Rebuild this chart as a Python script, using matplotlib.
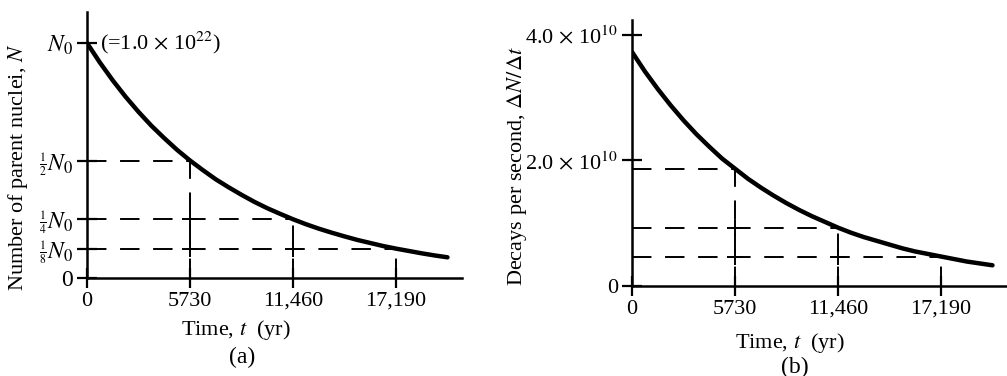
import matplotlib
matplotlib.use("Agg")
import matplotlib.pyplot as plt

# values
half_life = 5730
t_years = [0, 716, 1432, 2149, 2865, 3581, 4298, 5014, 5730, 6446, 7162,
           7879, 8595, 9311, 10028, 10744, 11460, 12176, 12892, 13609, 14325,
           15041, 15758, 16474, 17190, 17906, 18622, 19339, 20055]
n_fraction = [1.000, 0.917, 0.841, 0.771, 0.707, 0.648, 0.595, 0.545, 0.500,
              0.459, 0.420, 0.386, 0.354, 0.324, 0.297, 0.273, 0.250, 0.229,
              0.210, 0.193, 0.177, 0.162, 0.149, 0.136, 0.125, 0.115, 0.105,
              0.096, 0.088]
rate_e10 = [3.73, 3.42, 3.14, 2.88, 2.64, 2.42, 2.22, 2.03, 1.87, 1.71, 1.57,
            1.44, 1.32, 1.21, 1.11, 1.02, 0.93, 0.85, 0.78, 0.72, 0.66, 0.60,
            0.55, 0.51, 0.47, 0.43, 0.39, 0.36, 0.33]

guide_t = [5730, 11460, 17190]
guide_n = [0.5, 0.25, 0.125]
guide_rate = [1.87, 0.93, 0.47]

xtick_vals = [0, 5730, 11460, 17190]
xtick_labels = ["0", "5730", "11,460", "17,190"]
ytick_a = [0, 0.125, 0.25, 0.5, 1.0]
ytick_a_labels = ["0",
                  r"$\genfrac{}{}{0.6}{2}{1}{8}N_0$",
                  r"$\genfrac{}{}{0.6}{2}{1}{4}N_0$",
                  r"$\genfrac{}{}{0.6}{2}{1}{2}N_0$",
                  r"$N_0$"]
ytick_b = [0, 2.0, 4.0]
ytick_b_labels = ["0", r"2.0 $\times$ 10$^{10}$", r"4.0 $\times$ 10$^{10}$"]

plt.rcParams["font.family"] = ["Liberation Serif", "DejaVu Serif"]
plt.rcParams["mathtext.fontset"] = "stix"

W, H = 1007, 376
fig = plt.figure(figsize=(W / 100, H / 100), dpi=100)
fs = 16


def setup(ax, xmax, ymax):
	ax.set_xlim(0, xmax)
	ax.set_ylim(0, ymax)
	for s in ["top", "right"]:
		ax.spines[s].set_visible(False)
	for s in ["left", "bottom"]:
		ax.spines[s].set_linewidth(1.8)
	ax.tick_params(direction="inout", length=14, width=1.6, labelsize=fs, pad=3)
	ax.set_xticks(xtick_vals)
	ax.set_xticklabels(xtick_labels)
	ax.patch.set_alpha(0)


def guides(ax, yvals):
	dash = dict(color="black", lw=1.4, dashes=(10, 7))
	for tx, yv in zip(guide_t, yvals):
		ax.plot([0, tx], [yv, yv], **dash)
		ax.plot([tx, tx], [0, yv], **dash)
	# small crosses where guides meet
	ax.plot([guide_t[0], guide_t[0], guide_t[1]], [yvals[1], yvals[2], yvals[2]],
			"+", color="black", ms=12, mew=1.4)


# panel (a)
ax1 = fig.add_axes([87 / W, 1 - 278 / H, (462 - 87) / W, (278 - 12) / H])
setup(ax1, 20862, (278 - 12) / 235)
ax1.set_yticks(ytick_a)
ax1.set_yticklabels(ytick_a_labels)
ax1.tick_params(axis="y", labelsize=fs + 1)
guides(ax1, guide_n)
ax1.plot(t_years, n_fraction, color="black", lw=3.2,
		 solid_capstyle="round", solid_joinstyle="round")
ax1.text(700, 1.0, r"(=1.0 $\times$ 10$^{22}$)", fontsize=fs, va="center", ha="left")

# panel (b)
ax2 = fig.add_axes([632 / W, 1 - 286 / H, (1007 - 632) / W, (286 - 20) / H])
setup(ax2, 20862, (286 - 20) / 62.75)
ax2.set_yticks(ytick_b)
ax2.set_yticklabels(ytick_b_labels)
guides(ax2, guide_rate)
ax2.plot(t_years, rate_e10, color="black", lw=3.2,
		 solid_capstyle="round", solid_joinstyle="round")

# labels
fig.text(18 / W, 1 - 167 / H, r"Number of parent nuclei, $N$", rotation=90,
		 ha="center", va="center", fontsize=fs)
fig.text(517 / W, 1 - 166 / H, r"Decays per second, $\Delta N/\Delta t$", rotation=90,
		 ha="center", va="center", fontsize=fs)
fig.text(236 / W, 1 - 330 / H, r"Time, $t$  (yr)", ha="center", va="center", fontsize=fs)
fig.text(242 / W, 1 - 357 / H, "(a)", ha="center", va="center", fontsize=fs + 1)
fig.text(790 / W, 1 - 343 / H, r"Time, $t$  (yr)", ha="center", va="center", fontsize=fs)
fig.text(795 / W, 1 - 367 / H, "(b)", ha="center", va="center", fontsize=fs + 1)

fig.savefig("out.png", dpi=100)
